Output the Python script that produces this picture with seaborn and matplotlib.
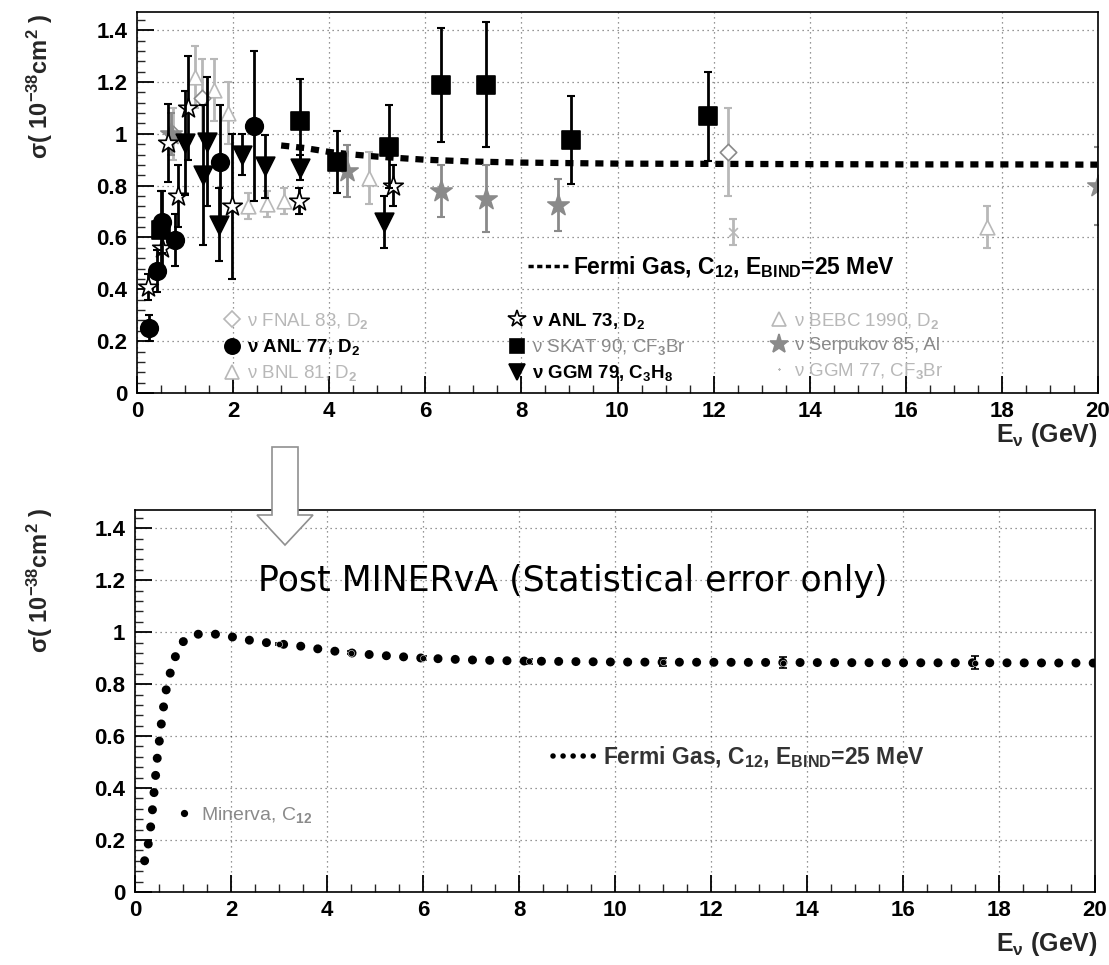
import matplotlib
matplotlib.use("Agg")
import matplotlib.pyplot as plt
import matplotlib.patches as mpatches
from matplotlib.lines import Line2D
from matplotlib.ticker import MultipleLocator, FixedLocator, FixedFormatter
import seaborn as sns

# ---------------- data ----------------
# Fermi gas prediction, C12, E_bind = 25 MeV
fg_E = [0.2, 0.25, 0.28, 0.32, 0.35, 0.38, 0.42, 0.46, 0.5, 0.55, 0.6, 0.66, 0.73, 0.8, 0.88,
        0.98, 1.2, 1.5, 1.8, 2.2, 2.6, 3.0, 3.5, 4.0, 4.5, 5.0, 6.0, 7.0, 8.0, 10.0, 12.0,
        14.0, 16.0, 18.0, 20.0]
fg_s = [0.12, 0.15, 0.19, 0.24, 0.29, 0.35, 0.43, 0.51, 0.57, 0.65, 0.72, 0.79, 0.84, 0.885, 0.925,
        0.96, 0.99, 0.995, 0.99, 0.975, 0.962, 0.955, 0.945, 0.93, 0.92, 0.912, 0.90, 0.893, 0.889,
        0.885, 0.884, 0.883, 0.882, 0.882, 0.881]

# Experiments (top panel)
anl77_E = [0.24, 0.41, 0.53, 0.79, 1.73, 2.43]
anl77_s = [0.25, 0.47, 0.66, 0.59, 0.89, 1.03]
anl77_e = [0.05, 0.08, 0.12, 0.10, 0.22, 0.29]

skat_E = [0.5, 3.4, 4.17, 5.24, 6.33, 7.27, 9.03, 11.89]
skat_s = [0.63, 1.05, 0.89, 0.95, 1.19, 1.19, 0.977, 1.067]
skat_e = [0.15, 0.16, 0.12, 0.16, 0.22, 0.24, 0.17, 0.17]

ggm79_E = [1.0, 1.38, 1.45, 1.7, 2.18, 2.67, 3.4, 5.14]
ggm79_s = [0.965, 0.84, 0.97, 0.65, 0.92, 0.874, 0.87, 0.66]
ggm79_e = [0.20, 0.27, 0.25, 0.14, 0.08, 0.12, 0.05, 0.10]

anl73_E = [0.23, 0.53, 0.65, 0.86, 1.06, 1.98, 3.37, 5.32]
anl73_s = [0.41, 0.56, 0.965, 0.76, 1.10, 0.72, 0.74, 0.80]
anl73_e = [0.05, 0.10, 0.15, 0.12, 0.20, 0.28, 0.05, 0.08]

fnal83_E = [0.75, 1.35, 12.3]
fnal83_s = [1.00, 1.14, 0.93]
fnal83_e = [0.10, 0.15, 0.17]

bnl81_E = [1.2, 1.6, 1.9, 2.3, 2.7, 3.05]
bnl81_s = [1.22, 1.17, 1.08, 0.72, 0.73, 0.74]
bnl81_e = [0.12, 0.12, 0.12, 0.05, 0.05, 0.05]

bebc_E = [4.83, 17.7]
bebc_s = [0.83, 0.64]
bebc_e = [0.10, 0.08]

serp_E = [0.70, 4.38, 6.33, 7.27, 8.76, 20.0]
serp_s = [1.00, 0.855, 0.78, 0.75, 0.726, 0.80]
serp_e = [0.08, 0.10, 0.10, 0.13, 0.10, 0.15]

ggm77_E = [12.4]
ggm77_s = [0.62]
ggm77_e = [0.05]

# MINERvA projected points (statistical errors only)
min_E = [3.0, 4.5, 6.0, 8.2, 11.0, 13.5, 17.5]
min_s = [0.955, 0.92, 0.90, 0.888, 0.885, 0.883, 0.882]
min_e = [0.005, 0.006, 0.008, 0.010, 0.015, 0.02, 0.025]

xticks = [0, 2, 4, 6, 8, 10, 12, 14, 16, 18, 20]
xtick_labels = ["0", "2", "4", "6", "8", "10", "12", "14", "16", "18", "20"]
yticks = [0, 0.2, 0.4, 0.6, 0.8, 1.0, 1.2, 1.4]
ytick_labels = ["0", "0.2", "0.4", "0.6", "0.8", "1", "1.2", "1.4"]

# ---------------- style ----------------
sns.set_theme(style="ticks")
plt.rcParams["font.family"] = ["Liberation Sans", "DejaVu Sans"]
plt.rcParams["mathtext.fontset"] = "custom"
plt.rcParams["mathtext.rm"] = "Liberation Sans:bold"
plt.rcParams["mathtext.it"] = "Liberation Sans:bold"
plt.rcParams["mathtext.bf"] = "Liberation Sans:bold"
plt.rcParams["mathtext.default"] = "rm"

W, H = 1109, 965
fig = plt.figure(figsize=(W / 100, H / 100), dpi=100)
fig.patch.set_facecolor("white")

def fx(px):
    return px / W

def fy(py):
    return 1 - py / H

ax1 = fig.add_axes([fx(137), fy(393), fx(1098) - fx(137), fy(12) - fy(393)])
ax2 = fig.add_axes([fx(135), fy(892), fx(1095) - fx(135), fy(510) - fy(892)])

GRAY = "#8a8a8a"
LGRAY = "#b8b8b8"

def style_axes(ax):
    ax.set_facecolor("white")
    ax.set_xlim(0, 20)
    ax.set_ylim(0, 1.47)
    ax.xaxis.set_major_locator(FixedLocator(xticks))
    ax.xaxis.set_major_formatter(FixedFormatter(xtick_labels))
    ax.yaxis.set_major_locator(FixedLocator(yticks))
    ax.yaxis.set_major_formatter(FixedFormatter(ytick_labels))
    ax.xaxis.set_minor_locator(MultipleLocator(0.5))
    ax.yaxis.set_minor_locator(MultipleLocator(0.04))
    ax.tick_params(which="major", direction="in", length=12, width=1.3, labelsize=16,
                   top=False, right=False, colors="black")
    ax.tick_params(axis="x", which="major", pad=6)
    ax.tick_params(axis="y", which="major", pad=7)
    ax.tick_params(which="minor", direction="in", length=6, width=1.0, top=False, right=False)
    for lab in ax.get_xticklabels() + ax.get_yticklabels():
        lab.set_fontweight("bold")
    ax.grid(True, which="major", color="black", linestyle=(0, (1, 3)), linewidth=0.9, alpha=0.55)
    for sp in ax.spines.values():
        sp.set_color("black")
        sp.set_linewidth(1.2)
    ax.set_xlabel("")
    ax.set_ylabel("")

style_axes(ax1)
style_axes(ax2)

def series(ax, E, S, err, marker, face, edge, size, ecol, z=3, lw=1.2):
    ax.errorbar(E, S, yerr=err, fmt="none", ecolor=ecol, elinewidth=2.0, capsize=3,
                capthick=1.5, zorder=z)
    sns.scatterplot(x=E, y=S, ax=ax, marker=marker, s=size, facecolor=face,
                    edgecolor=edge, linewidth=lw, zorder=z + 0.5, legend=False)

# ---------------- top panel ----------------
top_E = [e for e in fg_E if e >= 2.8]
top_s = [s for e, s in zip(fg_E, fg_s) if e >= 2.8]
sns.lineplot(x=top_E, y=top_s, ax=ax1, color="black", linewidth=4.5,
             linestyle=(0, (1.3, 1.1)), dash_capstyle="butt", zorder=2)

series(ax1, ggm77_E, ggm77_s, ggm77_e, "x", LGRAY, LGRAY, 40, LGRAY, z=2)
series(ax1, bnl81_E, bnl81_s, bnl81_e, "^", "white", LGRAY, 110, LGRAY, z=2)
series(ax1, bebc_E, bebc_s, bebc_e, "^", "white", LGRAY, 110, LGRAY, z=2)
series(ax1, fnal83_E, fnal83_s, fnal83_e, "D", "white", GRAY, 70, LGRAY, z=2)
series(ax1, serp_E, serp_s, serp_e, "*", GRAY, GRAY, 260, GRAY, z=2)
series(ax1, anl73_E, anl73_s, anl73_e, "*", "white", "black", 220, "black", z=3)
series(ax1, anl77_E, anl77_s, anl77_e, "o", "black", "black", 160, "black", z=4)
series(ax1, skat_E, skat_s, skat_e, "s", "black", "black", 160, "black", z=4)
series(ax1, ggm79_E, ggm79_s, ggm79_e, "v", "black", "black", 180, "black", z=4)

FS = 13.5

def mk(marker, face, edge, ms):
    return Line2D([], [], linestyle="none", marker=marker, markerfacecolor=face,
                  markeredgecolor=edge, markersize=ms, markeredgewidth=1.2)

def add_legend(handles, labels, colors, weights, x_px, y_px, hl=1.0, spacing=0.33, fs=FS,
               pad=0.3):
    leg = fig.legend(handles, labels, loc="upper left",
                     bbox_to_anchor=(fx(x_px), fy(y_px)), bbox_transform=fig.transFigure,
                     frameon=False, borderpad=0, borderaxespad=0, handlelength=hl,
                     handletextpad=pad, labelspacing=spacing, prop={"size": fs})
    for t, c, w in zip(leg.get_texts(), colors, weights):
        t.set_color(c)
        t.set_fontweight(w)
    return leg

add_legend([mk("D", "white", LGRAY, 8), mk("o", "black", "black", 11), mk("^", "white", LGRAY, 10)],
           ["ν FNAL 83, D$_2$", "ν ANL 77, D$_2$", "ν BNL 81, D$_2$"],
           [LGRAY, "black", LGRAY], ["normal", "bold", "normal"], 223, 311)
add_legend([mk("*", "white", "black", 13), mk("s", "black", "black", 10), mk("v", "black", "black", 11)],
           ["ν ANL 73, D$_2$", "ν SKAT 90, CF$_3$Br", "ν GGM 79, C$_3$H$_8$"],
           ["black", GRAY, "black"], ["bold", "normal", "bold"], 508, 311)
add_legend([mk("^", "white", LGRAY, 10), mk("*", GRAY, GRAY, 14), mk("x", LGRAY, LGRAY, 1)],
           ["ν BEBC 1990, D$_2$", "ν Serpukov 85, Al", "ν GGM 77, CF$_3$Br"],
           [LGRAY, GRAY, LGRAY], ["normal", "normal", "normal"], 770, 311)

add_legend([Line2D([], [], color="black", linewidth=2.5, linestyle=(0, (1.5, 1)))],
           ["Fermi Gas, C$_{12}$, E$_{BIND}$=25 MeV"], ["black"], ["bold"], 528, 254,
           hl=1.75, fs=16.5, pad=0.2)

# ---------------- bottom panel ----------------
sns.lineplot(x=fg_E, y=fg_s, ax=ax2, color="black", linewidth=6.5,
             linestyle=(0, (0.01, 1.9)), dash_capstyle="round", zorder=2)
ax2.errorbar(min_E, min_s, yerr=min_e, fmt="none", ecolor="black", elinewidth=1.5,
             capsize=3, capthick=1.2, zorder=3)
sns.scatterplot(x=min_E, y=min_s, ax=ax2, s=20, color="black", legend=False, zorder=3)

add_legend([Line2D([], [], color="black", linewidth=4, linestyle=(0, (0.01, 1.8)),
                   dash_capstyle="round")],
           ["Fermi Gas, C$_{12}$, E$_{BIND}$=25 MeV"], ["#333333"], ["bold"], 553, 744,
           hl=2.0, fs=16.5, pad=0.2)
add_legend([mk("o", "black", "black", 4)], ["Minerva, C$_{12}$"], [GRAY], ["normal"], 172, 805,
           hl=1.2, fs=14)

fig.text(fx(258), fy(591), "Post MINERvA (Statistical error only)", fontsize=25,
         family="DejaVu Sans", color="black", ha="left", va="baseline")

# ---------------- axis titles ----------------
for ytop in (14, 508):
    fig.text(fx(40), fy(ytop), "σ( 10$^{-38}$cm$^{2}$ )", rotation=90, ha="center",
             va="top", fontsize=17, fontweight="bold")
for yc in (435, 944):
    fig.text(fx(1098), fy(yc), "E$_{ν}$ (GeV)", ha="right", va="center", fontsize=18,
             fontweight="bold")

# hollow arrow between panels
arrow = mpatches.FancyArrow(fx(285), fy(447), 0, fy(545) - fy(447), width=fx(26),
                            head_width=fx(56), head_length=(fy(515) - fy(545)),
                            length_includes_head=True, transform=fig.transFigure,
                            facecolor="white", edgecolor="#909090", linewidth=1.2, zorder=10)
fig.patches.append(arrow)

fig.savefig("out.png", dpi=100, facecolor="white")
